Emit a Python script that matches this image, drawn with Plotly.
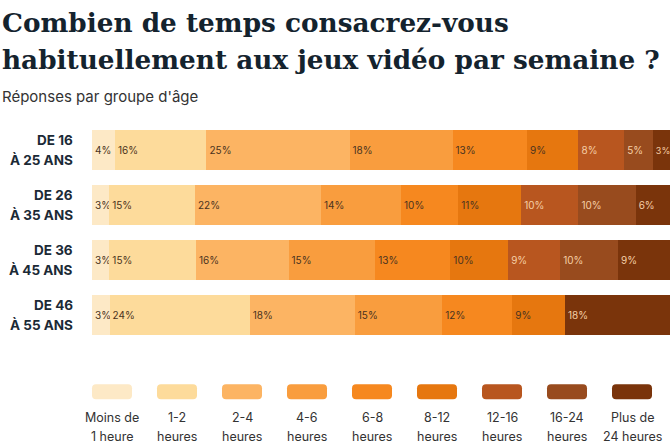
import plotly.graph_objects as go

groups = ["DE 16<br>À 25 ANS", "DE 26<br>À 35 ANS", "DE 36<br>À 45 ANS", "DE 46<br>À 55 ANS"]
categories = ["Moins de<br>1 heure", "1-2<br>heures", "2-4<br>heures", "4-6<br>heures", "6-8<br>heures",
              "8-12<br>heures", "12-16<br>heures", "16-24<br>heures", "Plus de<br>24 heures"]
# values[cat][group]
values = [
    [4, 3, 3, 3],
    [16, 15, 15, 24],
    [25, 22, 16, 18],
    [18, 14, 15, 15],
    [13, 10, 13, 12],
    [9, 11, 10, 9],
    [8, 10, 9, None],
    [5, 10, 10, None],
    [3, 6, 9, 18],
]
colors = ["#fde9c6", "#fddb9b", "#fcb463", "#f99d3e", "#f6881f", "#e6770f", "#b8561f", "#984b1e", "#7a340b"]
text_colors = ["#4a3320"] * 6 + ["#f6cfa6"] * 3

W, H = 670, 446
ML, MR, MT, MB = 92, 0, 122.5, 103.5
PW, PH = W - ML - MR, H - MT - MB

fig = go.Figure()
for i, cat in enumerate(categories):
    vals = values[i]
    last = i == len(categories) - 1
    sizes = [9 if (last and v is not None and v < 4) else 10 for v in vals]
    fig.add_trace(go.Bar(
        y=groups, x=[v if v is not None else 0 for v in vals], orientation="h",
        name=cat.replace("<br>", " "), marker=dict(color=colors[i], line=dict(width=0)),
        text=[f"{v}%" if v is not None else "" for v in vals],
        texttemplate="%{text}", textposition="inside", insidetextanchor="start",
        textangle=0, textfont=dict(family="Inter", size=sizes, color=text_colors[i]),
        hoverinfo="skip",
    ))

def px2x(px):
    return (px - ML) / PW

def py2y(py):
    return (H - MB - py) / PH

shapes = []
annotations = []
sw, sh, r = 40, 15, 4
for i, cat in enumerate(categories):
    cx = 112 + 65 * i
    x0, x1 = cx - sw / 2, cx + sw / 2
    y0, y1 = 385, 400
    path = (f"M {px2x(x0 + r)} {py2y(y0)} L {px2x(x1 - r)} {py2y(y0)} "
            f"Q {px2x(x1)} {py2y(y0)} {px2x(x1)} {py2y(y0 + r)} "
            f"L {px2x(x1)} {py2y(y1 - r)} Q {px2x(x1)} {py2y(y1)} {px2x(x1 - r)} {py2y(y1)} "
            f"L {px2x(x0 + r)} {py2y(y1)} Q {px2x(x0)} {py2y(y1)} {px2x(x0)} {py2y(y1 - r)} "
            f"L {px2x(x0)} {py2y(y0 + r)} Q {px2x(x0)} {py2y(y0)} {px2x(x0 + r)} {py2y(y0)} Z")
    shapes.append(dict(type="path", path=path, xref="paper", yref="paper",
                       fillcolor=colors[i], line=dict(width=0)))
    for j, line in enumerate(cat.split("<br>")):
        annotations.append(dict(x=px2x(cx), y=py2y(418 + 19 * j), xref="paper", yref="paper",
                                text=line, showarrow=False, xanchor="center", yanchor="middle",
                                font=dict(family="Inter", size=12.5, color="#333333")))

for g in groups:
    l1, l2 = g.split("<br>")
    for txt, shift in ((l1, 10), (l2, -10)):
        annotations.append(dict(x=px2x(75), y=g, xref="paper", yref="y", yshift=shift,
                                text=f"<b>{txt}</b>", showarrow=False, xanchor="right", yanchor="middle",
                                font=dict(family="Inter", size=13.5, color="#1b2a36")))

title_font = dict(family="DejaVu Serif", size=26.3, color="#14232e", weight="bold")
annotations.append(dict(x=px2x(0), y=py2y(22), xref="paper", yref="paper",
                        text="Combien de temps consacrez-vous", showarrow=False, xanchor="left",
                        yanchor="middle", font=title_font))
annotations.append(dict(x=px2x(0), y=py2y(59), xref="paper", yref="paper",
                        text="habituellement aux jeux vidéo par semaine ?", showarrow=False, xanchor="left",
                        yanchor="middle", font=title_font))
annotations.append(dict(x=px2x(0), y=py2y(96), xref="paper", yref="paper",
                        text="Réponses par groupe d'âge", showarrow=False, xanchor="left",
                        yanchor="middle", font=dict(family="Inter", size=15, color="#333333")))

fig.update_layout(
    width=W, height=H, margin=dict(l=ML, r=MR, t=MT, b=MB),
    barmode="stack", barnorm="percent", bargap=15 / 55,
    paper_bgcolor="white", plot_bgcolor="white", showlegend=False,
    xaxis=dict(range=[0, 100], visible=False, fixedrange=True),
    yaxis=dict(autorange="reversed", showticklabels=False, ticks="", showgrid=False, zeroline=False),
    uniformtext=dict(minsize=9, mode="show"),
    shapes=shapes, annotations=annotations,
)
fig.write_html("out.html")
